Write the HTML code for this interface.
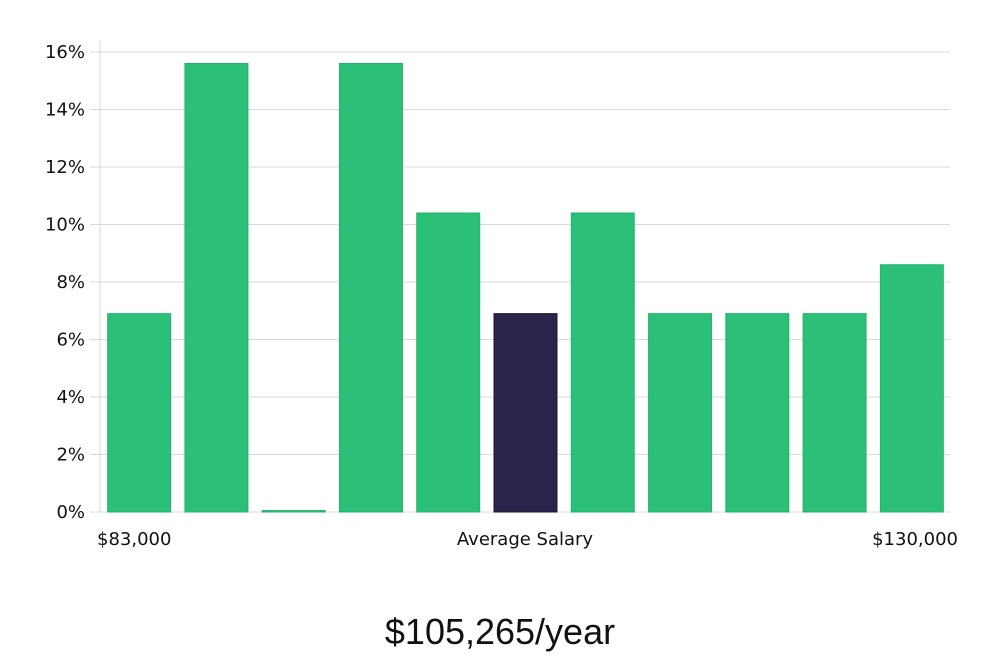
<!DOCTYPE html>
<html><head><meta charset="utf-8"><style>
body{margin:0;background:#fff;width:1000px;height:660px;overflow:hidden}
svg text{font-family:"DejaVu Sans","Liberation Sans",sans-serif;fill:#111}
</style></head><body>
<svg id="chart" width="1000" height="660" viewBox="0 0 1000 660"></svg>
<script>
const categories=["b1","b2","b3","b4","b5","b6","b7","b8","b9","b10","b11"];
const values=[6.9,15.6,0.05,15.6,10.4,6.9,10.4,6.9,6.9,6.9,8.6];
const highlight=[false,false,false,false,false,true,false,false,false,false,false];
const yTicks=[0,2,4,6,8,10,12,14,16];
const svg=document.getElementById('chart');
const NS='http://www.w3.org/2000/svg';
const x0=100,x1=950,yBase=512,yTop=52,yMax=16;
const y=v=>yBase-(v/yMax)*(yBase-yTop);
const band=(x1-x0)/categories.length;
const bw=band*0.815;
function mk(t,a){const e=document.createElementNS(NS,t);for(const k in a)e.setAttribute(k,a[k]);svg.appendChild(e);return e;}
yTicks.forEach(t=>{
 const l=mk('line',{x1:90,x2:x1,y1:y(t),y2:y(t),stroke:'#d9d9d9','stroke-width':1});
 
 
 const tx=mk('text',{x:85,y:y(t)+6,'text-anchor':'end','font-size':18});
 tx.textContent=t+'%';
 
 
});
const ax=mk('line',{x1:x0,x2:x0,y1:40,y2:yBase,stroke:'#d9d9d9','stroke-width':1});


values.forEach((v,i)=>{
 const bx=x0+i*band+(band-bw)/2+0.5;
 const top=y(v);
 const r=mk('rect',{x:bx,y:top,width:bw,height:Math.max(1,yBase-top),fill:highlight[i]?'#29244a':'#2bbf78',stroke:highlight[i]?'#1a1635':'#22b36d','stroke-width':1});
 
 
});
</script>
<div style="position:absolute;left:0;top:0;width:1000px;height:660px;pointer-events:none;font-family:'DejaVu Sans','Liberation Sans',sans-serif;color:#111">
<div style="position:absolute;left:97px;top:529px;font-size:18px">$83,000</div>
<div style="position:absolute;left:0;width:1050px;text-align:center;top:529px;font-size:18px">Average Salary</div>
<div style="position:absolute;right:42px;top:529px;font-size:18px">$130,000</div>
<div style="position:absolute;left:0;width:1000px;text-align:center;top:611px;font-size:36px;font-weight:300;font-family:'Liberation Sans',sans-serif">$105,265/year</div>
</div>
</body></html>
